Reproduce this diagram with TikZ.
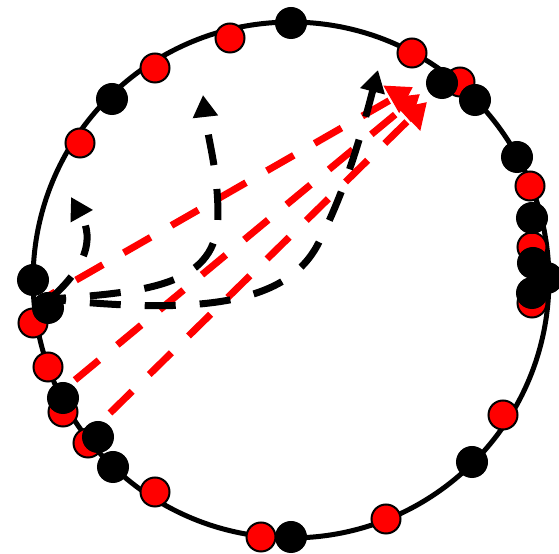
\documentclass[tikz,border=0pt]{standalone}
\usetikzlibrary{arrows.meta}
\tikzset{
  reddot/.style={draw, circle, fill=red, line width=0.04cm, minimum size=0.58cm, inner sep=0pt},
  blackdot/.style={draw, circle, fill=black, line width=0.04cm, minimum size=0.6cm, inner sep=0pt},
  redpath/.style={red, line width=0.14cm, dash pattern=on 0.62cm off 0.48cm, -{Triangle[length=0.5cm,width=0.6cm]}},
  blackpath/.style={black, line width=0.14cm, dash pattern=on 0.62cm off 0.48cm, -{Triangle[length=0.44cm,width=0.48cm]}}
}
\begin{document}
\begin{tikzpicture}[x=0.02cm, y=-0.02cm]
\fill[white] (0,0) rectangle (559,554);
\useasboundingbox (0,0) rectangle (559,554);
\node[draw, circle, line width=0.1cm, minimum size=10.32cm, inner sep=0pt] (rim) at (291,280) {};
\coordinate (src) at (50,299);
\coordinate (s1) at (50,295);
\coordinate (s2) at (75,380);
\coordinate (s3) at (110,413);
\coordinate (t1) at (413,87);
\coordinate (t2) at (420,94);
\coordinate (t3) at (427,102);
\coordinate (ua) at (71,197);
\coordinate (ub) at (203,95);
\coordinate (mb) at (218,215);
\coordinate (uc) at (378,70);
\coordinate (mc) at (320,240);
\draw[redpath, dash phase=0.5cm] (s1) -- (t1);
\draw[redpath] (s2) -- (t2);
\draw[redpath] (s3) -- (t3);
\draw[blackpath] (src) .. controls (85,268) and (95,240) .. (ua);
\draw[blackpath, dash phase=0.3cm] (src) .. controls (150,292) and (218,285) .. (mb) .. controls (218,170) and (208,140) .. (ub);
\draw[blackpath, dash phase=0.3cm] (src) .. controls (200,315) and (290,305) .. (mc) .. controls (345,190) and (360,140) .. (uc);
\node[reddot] (r1) at (230,38) {};
\node[reddot] (r2) at (155,68) {};
\node[reddot] (r3) at (80,143) {};
\node[reddot] (r4) at (412,53) {};
\node[reddot] (r5) at (460,82) {};
\node[reddot] (r6) at (530,186) {};
\node[reddot] (r7) at (532,247) {};
\node[reddot] (r8) at (532,303) {};
\node[reddot] (r9) at (33,323) {};
\node[reddot] (r10) at (48,367) {};
\node[reddot] (r11) at (63,412) {};
\node[reddot] (r12) at (88,443) {};
\node[reddot] (r13) at (155,492) {};
\node[reddot] (r14) at (261,537) {};
\node[reddot] (r15) at (386,519) {};
\node[reddot] (r16) at (503,415) {};
\node[blackdot] (k1) at (291,23) {};
\node[blackdot] (k2) at (112,99) {};
\node[blackdot] (k3) at (442,83) {};
\node[blackdot] (k4) at (475,100) {};
\node[blackdot] (k5) at (517,157) {};
\node[blackdot] (k6) at (532,218) {};
\node[blackdot] (k7) at (533,263) {};
\node[blackdot] (k8) at (547,278) {};
\node[blackdot] (k9) at (532,293) {};
\node[blackdot] (k10) at (33,280) {};
\node[blackdot] (k11) at (48,308) {};
\node[blackdot] (k12) at (63,398) {};
\node[blackdot] (k13) at (98,437) {};
\node[blackdot] (k14) at (113,467) {};
\node[blackdot] (k15) at (291,537) {};
\node[blackdot] (k16) at (472,462) {};
\end{tikzpicture}
\end{document}
